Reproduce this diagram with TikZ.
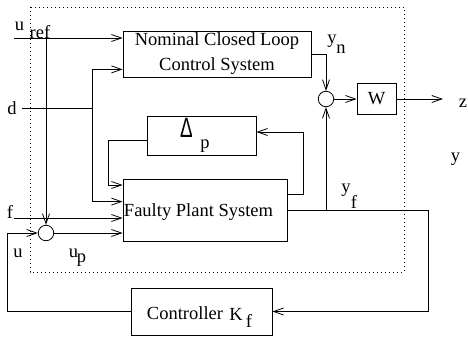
\documentclass[tikz,border=0pt]{standalone}
\usepackage{fontspec}
\setmainfont{Liberation Serif}
\newfontfamily\dfont{Liberation Sans}
\usetikzlibrary{arrows.meta}
\begin{document}
\begin{tikzpicture}[x=1pt,y=-1pt,
  every node/.style={font=\fontsize{18.5}{25}\selectfont, inner sep=0pt},
  blk/.style={draw, line width=0.8pt, rectangle},
  sumc/.style={draw, line width=0.8pt, circle, minimum size=15.5pt},
  conn/.style={line width=0.8pt},
  arr/.style={conn, -{Straight Barb[length=10pt,width=7pt,line width=0.8pt]}}]
\useasboundingbox (0,0) rectangle (468,339);
\draw[dash pattern=on 1pt off 3pt, line width=0.8pt] (30,7) rectangle (404,272);
% blocks
\node[blk, minimum width=188pt, minimum height=46pt, align=center] (nom) at (217,54) {Nominal Closed Loop\\Control System};
\node[blk, minimum width=109pt, minimum height=39pt] (dbox) at (201.5,135.5) {};
\node (delta) at (186.5,127.5) {\scalebox{2.1}[3.1]{\dfont\fontsize{9}{11}\selectfont Δ}};
\node (dp) at (205,146) {p};
\node[blk, minimum width=164pt, minimum height=62pt] (plant) at (205,210) {};
\node (plantt) at (198.5,212) {Faulty Plant System};
\node[blk, minimum width=39pt, minimum height=31pt] (W) at (376.5,99) {W};
\node[blk, minimum width=141pt, minimum height=47pt] (ctrl) at (201.5,311.5) {};
\node (ctrlt) at (185,313) {Controller};
\node (K) at (236,314) {K};
\node (Kf) at (249,321) {f};
\node[sumc] (s1) at (46,233) {};
\node[sumc] (s2) at (326,99) {};
% coordinates
\coordinate (uin) at (14,38);
\coordinate (uj) at (46,38);
\coordinate (din) at (22,108);
\coordinate (dj) at (92,108);
\coordinate (dl) at (108,185);
\coordinate (fin) at (14,218);
\coordinate (ucorner) at (7,233);
\coordinate (fb) at (303,132);
\coordinate (yr) at (428,210);
\coordinate (yb) at (326,210);
\coordinate (zout) at (443,99);
% connectors
\draw[arr] (uin) -- (uin -| nom.west);
\draw[arr] (uj) -- (s1.north);
\draw[conn] (din) -- (dj);
\draw[arr] (dj) |- ([yshift=8pt]nom.south west);
\draw[arr] (dj) |- ([yshift=-23pt]plant.north west);
\draw[arr] ([yshift=-4.5pt]dbox.west) -| (dl) -- (dl -| plant.west);
\draw[arr] (fin) -- (fin -| plant.west);
\draw[arr] (s1.east) -- (s1.east -| plant.west);
\draw[arr] (ctrl.west) -| (ucorner) -- (s1.west);
\draw[arr] ([yshift=16pt]plant.east) -| (fb) -- (fb -| dbox.east);
\draw[arr] (plant.east) -- (yr) |- (ctrl.east);
\draw[arr] (yb) -- (s2.south);
\draw[arr] (nom.east) -| (s2.north);
\draw[arr] (s2.east) -- (W.west);
\draw[arr] (W.east) -- (zout);
% labels
\node (lu) at (19.5,26.5) {u};
\node (lref) at (40,32) {ref};
\node (ld) at (12,108) {d};
\node (lf) at (10,212) {f};
\node (lu2) at (18,253) {u};
\node (lup) at (73.5,253) {u};
\node (lupp) at (81.5,260) {p};
\node (lyn) at (332,41.5) {y};
\node (lynn) at (341,49.5) {n};
\node (lyf) at (346,190) {y};
\node (lyff) at (354,202) {f};
\node (lz) at (463,103) {z};
\node (ly) at (455.5,159) {y};
\end{tikzpicture}
\end{document}
